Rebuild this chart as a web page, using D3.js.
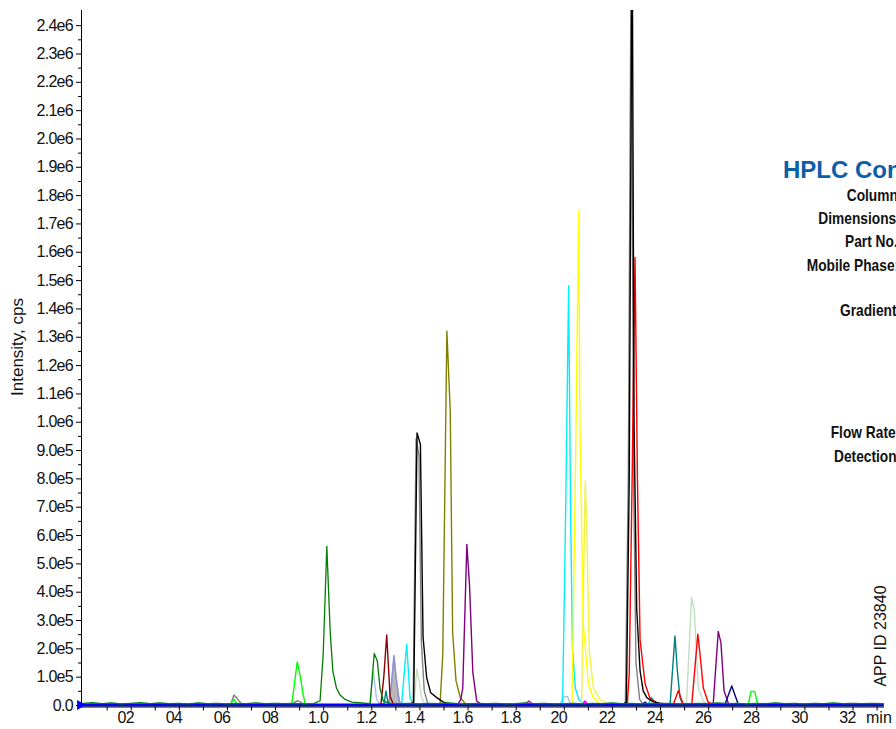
<!DOCTYPE html>
<html>
<head>
<meta charset="utf-8">
<script src="https://cdn.jsdelivr.net/npm/d3@7"></script>
<style>
  body { margin: 0; background: #fff; }
  svg { display: block; }
  text { font-family: "Liberation Sans", Arial, sans-serif; fill: #111; }
</style>
</head>
<body>
<div id="svg-container"></div>
<script>
// Tick labels (as printed on the chart)
let yTickLabels = ['0.0', '1.0e5', '2.0e5', '3.0e5', '4.0e5', '5.0e5', '6.0e5', '7.0e5', '8.0e5', '9.0e5',
  '1.0e6', '1.1e6', '1.2e6', '1.3e6', '1.4e6', '1.5e6', '1.6e6', '1.7e6', '1.8e6', '1.9e6',
  '2.0e6', '2.1e6', '2.2e6', '2.3e6', '2.4e6'];
let xTickValues = [2, 4, 6, 8, 10, 12, 14, 16, 18, 20, 22, 24, 26, 28, 30, 32];
let xTickLabels = ['02', '04', '06', '08', '1.0', '1.2', '1.4', '1.6', '1.8', '20', '22', '24', '26', '28', '30', '32'];

// Traces: [time (min), intensity (cps)], null = gap
let blueTrace = [[0, 0], [33.3, 0]];
let greenTrace = [[0, 0.06e5], [0.4, 0.08e5], [0.8, 0.05e5], [1.2, 0.07e5], [1.6, 0.04e5], [2.0, 0.06e5], [2.4, 0.08e5],
  [2.8, 0.05e5], [3.2, 0.07e5], [3.6, 0.05e5], [4.0, 0.06e5], [4.4, 0.04e5], [4.8, 0.07e5], [5.2, 0.05e5], [5.6, 0.06e5],
  [6.0, 0.04e5], [6.4, 0.06e5], [6.8, 0.05e5], [7.2, 0.07e5], [7.6, 0.05e5], [8.0, 0.06e5], [8.4, 0.05e5], [8.8, 0.06e5],
  [9.2, 0.04e5], [9.6, 0.05e5], [9.87, 0.15e5], [10.0, 1.8e5], [10.15, 5.6e5], [10.29, 2.6e5], [10.4, 1.2e5], [10.55, 0.6e5],
  [10.7, 0.35e5], [10.9, 0.2e5], [11.2, 0.1e5], [11.6, 0.07e5], [11.95, 0.05e5], [12.12, 1.82e5], [12.25, 1.55e5],
  [12.36, 0.6e5], [12.5, 0.14e5], [12.8, 0.06e5], [13.2, 0.05e5], [13.6, 0.06e5], [14.0, 0.04e5], [14.4, 0.06e5],
  [14.8, 0.05e5], [15.2, 0.07e5], [15.6, 0.05e5], [16.0, 0.04e5], [16.4, 0.06e5], [16.8, 0.05e5], [17.2, 0.06e5],
  [17.6, 0.04e5], [18.0, 0.05e5], [18.4, 0.07e5], [18.8, 0.05e5], [19.2, 0.06e5], [19.6, 0.04e5], [20.0, 0.05e5],
  [20.4, 0.06e5], [20.8, 0.04e5], [21.2, 0.06e5], [21.6, 0.05e5], [22.0, 0.07e5], [22.4, 0.05e5], [22.8, 0.06e5],
  [23.2, 0.04e5], [23.6, 0.06e5], [24.0, 0.05e5], [24.4, 0.06e5], [24.8, 0.04e5], [25.2, 0.05e5], [25.6, 0.06e5],
  [26.0, 0.05e5], [26.4, 0.07e5], [26.8, 0.05e5], [27.2, 0.06e5], [27.6, 0.04e5], [28.0, 0.06e5], [28.4, 0.05e5],
  [28.8, 0.07e5], [29.2, 0.05e5], [29.6, 0.06e5], [30.0, 0.04e5], [30.4, 0.06e5], [30.8, 0.05e5], [31.2, 0.07e5],
  [31.6, 0.05e5], [32.0, 0.06e5], [32.4, 0.05e5], [32.8, 0.06e5], [33.3, 0.05e5]];
let limeTrace = [[5.9, 0.02e5], [6.15, 0.03e5], [6.29, 0.2e5], [6.42, 0.04e5], [6.7, 0.02e5], null,
  [8.5, 0.02e5], [8.69, 0.03e5], [8.8, 0.7e5], [8.92, 1.52e5], [9.05, 1.0e5], [9.15, 0.45e5], [9.25, 0.03e5], [9.6, 0.02e5], null,
  [27.5, 0.02e5], [27.67, 0.03e5], [27.78, 0.48e5], [27.93, 0.48e5], [28.06, 0.03e5], [28.3, 0.02e5]];
let grayTrace = [[6.0, 0], [6.17, 0.05e5], [6.29, 0.35e5], [6.45, 0.2e5], [6.62, 0.02e5], [6.8, 0], null,
  [8.7, 0], [8.85, 0.12e5], [8.95, 0.15e5], [9.1, 0.08e5], [9.2, 0], null,
  [13.7, 0.02e5], [13.74, 0.1e5], [13.86, 9.4e5], [13.98, 8.8e5], [14.08, 2.2e5], [14.2, 0.5e5], [14.35, 0.02e5], null,
  [22.5, 0.02e5], [22.56, 0.1e5], [22.68, 8e5], [22.8, 27e5], [22.9, 8e5], [23.0, 1.5e5], [23.15, 0.2e5], [23.3, 0.02e5]];
let blackTrace = [[13.6, 0.02e5], [13.76, 0.1e5], [13.9, 9.6e5], [14.04, 9.2e5], [14.15, 2.4e5], [14.3, 0.96e5],
  [14.47, 0.43e5], [14.72, 0.26e5], [15.0, 0.1e5], [15.3, 0.03e5], null,
  [22.45, 0.02e5], [22.6, 0.1e5], [22.72, 8e5], [22.84, 28e5], [22.92, 9.9e5], [23.03, 3.4e5], [23.17, 1.2e5],
  [23.3, 0.5e5], [23.45, 0.26e5], [23.7, 0.12e5], [24.0, 0.06e5], [24.4, 0.03e5]];
let oliveTrace = [[14.75, 0.02e5], [14.86, 0.05e5], [14.97, 1.8e5], [15.14, 13.2e5], [15.28, 10.4e5], [15.38, 2.55e5],
  [15.52, 0.85e5], [15.7, 0.26e5], [15.9, 0.05e5], [16.1, 0.02e5]];
let purpleTrace = [[15.6, 0.02e5], [15.72, 0.2e5], [15.8, 0.6e5], [15.97, 5.67e5], [16.08, 4.26e5], [16.22, 1.14e5],
  [16.38, 0.14e5], [16.55, 0.03e5], [16.7, 0.02e5], null,
  [26.1, 0.02e5], [26.21, 0.03e5], [26.42, 2.6e5], [26.53, 2.2e5], [26.66, 0.5e5], [26.84, 0.05e5], [27.0, 0.02e5]];
let cyanTrace = [[13.15, 0.02e5], [13.26, 0.03e5], [13.47, 2.15e5], [13.61, 0.25e5], [13.75, 0.03e5], null,
  [19.85, 0.02e5], [19.95, 0.03e5], [20.08, 7e5], [20.2, 14.8e5], [20.28, 7e5], [20.36, 2e5], [20.48, 0.6e5],
  [20.62, 0.2e5], [20.8, 0.04e5], null,
  [23.5, 0.02e5], [23.65, 0.28e5], [23.8, 0.02e5]];
let paleGreenTrace = [[13.7, 0.02e5], [13.78, 0.1e5], [13.89, 1.26e5], [13.98, 0.9e5], [14.08, 0.3e5], [14.2, 0.05e5],
  [14.35, 0.02e5], null,
  [25.0, 0.02e5], [25.1, 0.05e5], [25.31, 3.8e5], [25.42, 3.38e5], [25.59, 0.6e5], [25.8, 0.14e5], [26.0, 0.02e5]];
let steelBlueTrace = [[11.85, 0.02e5], [11.95, 0.05e5], [12.08, 1.2e5], [12.22, 0.2e5], [12.35, 0.02e5], null,
  [19.85, 0.02e5], [19.98, 0.28e5], [20.15, 0.3e5], [20.28, 0.03e5]];
let darkRedTrace = [[12.3, 0.02e5], [12.4, 0.03e5], [12.52, 1.0e5], [12.64, 2.47e5], [12.78, 0.3e5], [12.92, 0.02e5]];
let tealTrace = [[12.45, 0.02e5], [12.53, 0.05e5], [12.61, 0.5e5], [12.7, 0.05e5], [12.8, 0.02e5], null,
  [24.3, 0.02e5], [24.42, 0.05e5], [24.62, 2.44e5], [24.72, 1.2e5], [24.83, 0.26e5], [24.94, 0.03e5], [25.1, 0.02e5]];
let silverTrace = [[12.7, 0], [12.82, 0.6e5], [12.94, 1.7e5], [13.06, 0.8e5], [13.18, 0.1e5], [13.3, 0]];
let slateTrace = [[12.72, 0.02e5], [12.82, 0.6e5], [12.94, 1.75e5], [13.04, 0.9e5], [13.16, 0.12e5], [13.28, 0.02e5]];
let magentaTrace = [[18.4, 0.02e5], [18.55, 0.15e5], [18.7, 0.02e5], null, [20.75, 0.02e5], [20.88, 0.14e5], [21.0, 0.02e5]];
let yellowTrace = [[20.25, 0.02e5], [20.34, 0.05e5], [20.48, 8e5], [20.62, 17.45e5], [20.67, 9.9e5], [20.81, 2.85e5],
  [21.02, 0.74e5], [21.23, 0.25e5], [21.5, 0.05e5], [21.8, 0.02e5]];
let paleYellowTrace = [[20.6, 0.02e5], [20.74, 0.05e5], [20.89, 7.9e5], [20.95, 6.4e5], [21.06, 1.9e5], [21.23, 0.6e5],
  [21.5, 0.2e5], [21.8, 0.03e5]];
let redTrace = [[22.5, 0.02e5], [22.64, 0.05e5], [22.72, 1.1e5], [22.84, 8e5], [22.96, 15.8e5], [23.06, 8e5],
  [23.17, 2.3e5], [23.38, 0.74e5], [23.58, 0.25e5], [23.9, 0.05e5], [24.2, 0.02e5], null,
  [24.55, 0.02e5], [24.76, 0.5e5], [24.97, 0.02e5], null,
  [25.2, 0.02e5], [25.32, 0.03e5], [25.57, 2.5e5], [25.66, 1.8e5], [25.8, 0.6e5], [26.0, 0.1e5], [26.2, 0.02e5]];
let navyTrace = [[23.25, 0.01e5], [23.37, 0.1e5], [23.5, 0.01e5], null,
  [26.6, 0.01e5], [26.7, 0.03e5], [26.98, 0.67e5], [27.25, 0.03e5], [27.4, 0.01e5]];

let width = 896;
let height = 729;

let svg = d3.select('#svg-container')
  .append('svg')
  .attr('width', width)
  .attr('height', height);

// Scales
let x = d3.scaleLinear().domain([0, 33.3]).range([82.6, 883.8]);
let y = d3.scaleLinear().domain([0, 2.45e6]).range([705, 11]);

// Clip for the traces
svg.append('clipPath')
  .attr('id', 'plotClip')
  .append('rect')
  .attr('x', 81)
  .attr('y', 10)
  .attr('width', 805)
  .attr('height', 700);

let plot = svg.append('g').attr('clip-path', 'url(#plotClip)');

let line = d3.line()
  .defined((d) => d !== null)
  .x((d) => x(d[0]))
  .y((d) => y(d[1]));

let area = d3.area()
  .x((d) => x(d[0]))
  .y0(y(0))
  .y1((d) => y(d[1]));

// Filled grey peak
plot.append('path')
  .attr('d', area(silverTrace))
  .attr('fill', '#b8b8b8')
  .attr('stroke', '#a8a8a8')
  .attr('stroke-width', 1);

// Line traces, in drawing order
let traces = [
  { data: steelBlueTrace, color: '#a9c3e6' },
  { data: paleGreenTrace, color: '#c3dec3' },
  { data: slateTrace, color: '#8f8fd6' },
  { data: tealTrace, color: '#008080' },
  { data: darkRedTrace, color: '#8b0000' },
  { data: magentaTrace, color: '#ff00ff' },
  { data: cyanTrace, color: '#00f0ff' },
  { data: paleYellowTrace, color: '#f2f24a' },
  { data: yellowTrace, color: '#ffff00' },
  { data: oliveTrace, color: '#808000' },
  { data: purpleTrace, color: '#800080' },
  { data: navyTrace, color: '#000080' },
  { data: grayTrace, color: '#808080' },
  { data: redTrace, color: '#ff0000' },
  { data: blackTrace, color: '#000000' },
  { data: limeTrace, color: '#00ff00' }
];

traces.forEach((t) => {
  plot.append('path')
    .attr('d', line(t.data))
    .attr('fill', 'none')
    .attr('stroke', t.color)
    .attr('stroke-width', 1.4)
    .attr('stroke-linejoin', 'round');
});

// Blue baseline and green trace on top
plot.append('path')
  .attr('d', line(blueTrace))
  .attr('fill', 'none')
  .attr('stroke', '#0000ff')
  .attr('stroke-width', 3);

plot.append('path')
  .attr('d', line(greenTrace))
  .attr('fill', 'none')
  .attr('stroke', '#008000')
  .attr('stroke-width', 1.3)
  .attr('stroke-linejoin', 'round');

// Y axis
let yTickValues = yTickLabels.map(Number);
let yAxis = svg.append('g')
  .attr('transform', 'translate(81,0)')
  .call(d3.axisLeft(y)
    .tickValues(yTickValues)
    .tickFormat((d, i) => yTickLabels[i])
    .tickSize(5)
    .tickSizeOuter(0)
    .tickPadding(3));
yAxis.select('.domain').attr('d', 'M0.5,10V707');
yAxis.selectAll('text')
  .style('font-size', '16px')
  .style('letter-spacing', '-0.7px')
  .attr('fill', '#111');

// Minor y ticks
svg.append('g')
  .attr('transform', 'translate(81,0)')
  .call(d3.axisLeft(y)
    .tickValues(yTickValues.slice(1).map((v) => v - 0.5e5))
    .tickFormat('')
    .tickSize(3)
    .tickSizeOuter(0))
  .select('.domain').remove();

// X axis
let xAxis = svg.append('g')
  .attr('transform', 'translate(0,706.5)')
  .call(d3.axisBottom(x)
    .tickValues(d3.range(1, 34))
    .tickFormat('')
    .tickSize(4)
    .tickSizeOuter(0));
xAxis.select('.domain').attr('d', 'M81,0.5H884');

svg.append('g')
  .selectAll('text')
  .data(xTickValues)
  .enter()
  .append('text')
  .attr('x', (d) => x(d) - 5)
  .attr('y', 723)
  .attr('text-anchor', 'middle')
  .style('font-size', '16px')
  .style('letter-spacing', '-0.7px')
  .text((d, i) => xTickLabels[i]);

svg.append('text')
  .attr('x', 866)
  .attr('y', 723)
  .style('font-size', '16px')
  .text('min');

// Blue start marker
svg.append('path')
  .attr('d', d3.symbol(d3.symbolTriangle).size(45))
  .attr('transform', 'translate(80,705) rotate(90)')
  .attr('fill', '#0000ff');

// Y axis title
svg.append('text')
  .attr('transform', 'translate(23,347) rotate(-90)')
  .attr('text-anchor', 'middle')
  .style('font-size', '17px')
  .text('Intensity, cps');

// HPLC conditions panel (runs past the right edge)
svg.append('text')
  .attr('x', 783)
  .attr('y', 178)
  .style('font-size', '24px')
  .style('font-weight', 'bold')
  .style('fill', '#0b5fa8')
  .text('HPLC Conditions');

let panelLabels = ['Column:', 'Dimensions:', 'Part No.:', 'Mobile Phase:', 'Gradient:', 'Flow Rate:', 'Detection:'];
let panelX = [846.7, 818.3, 845, 806.7, 840, 830.7, 834];
let panelY = [201, 224, 246.7, 270.7, 315.5, 438, 461.7];
svg.append('g')
  .selectAll('text')
  .data(panelLabels)
  .enter()
  .append('text')
  .attr('transform', (d, i) => 'translate(' + panelX[i] + ',' + panelY[i] + ') scale(0.86,1)')
  .style('font-size', '16px')
  .style('font-weight', 'bold')
  .text((d) => d);

svg.append('text')
  .attr('transform', 'translate(886,636) rotate(-90)')
  .attr('text-anchor', 'middle')
  .style('font-size', '16px')
  .text('APP ID 23840');
</script>
</body>
</html>
